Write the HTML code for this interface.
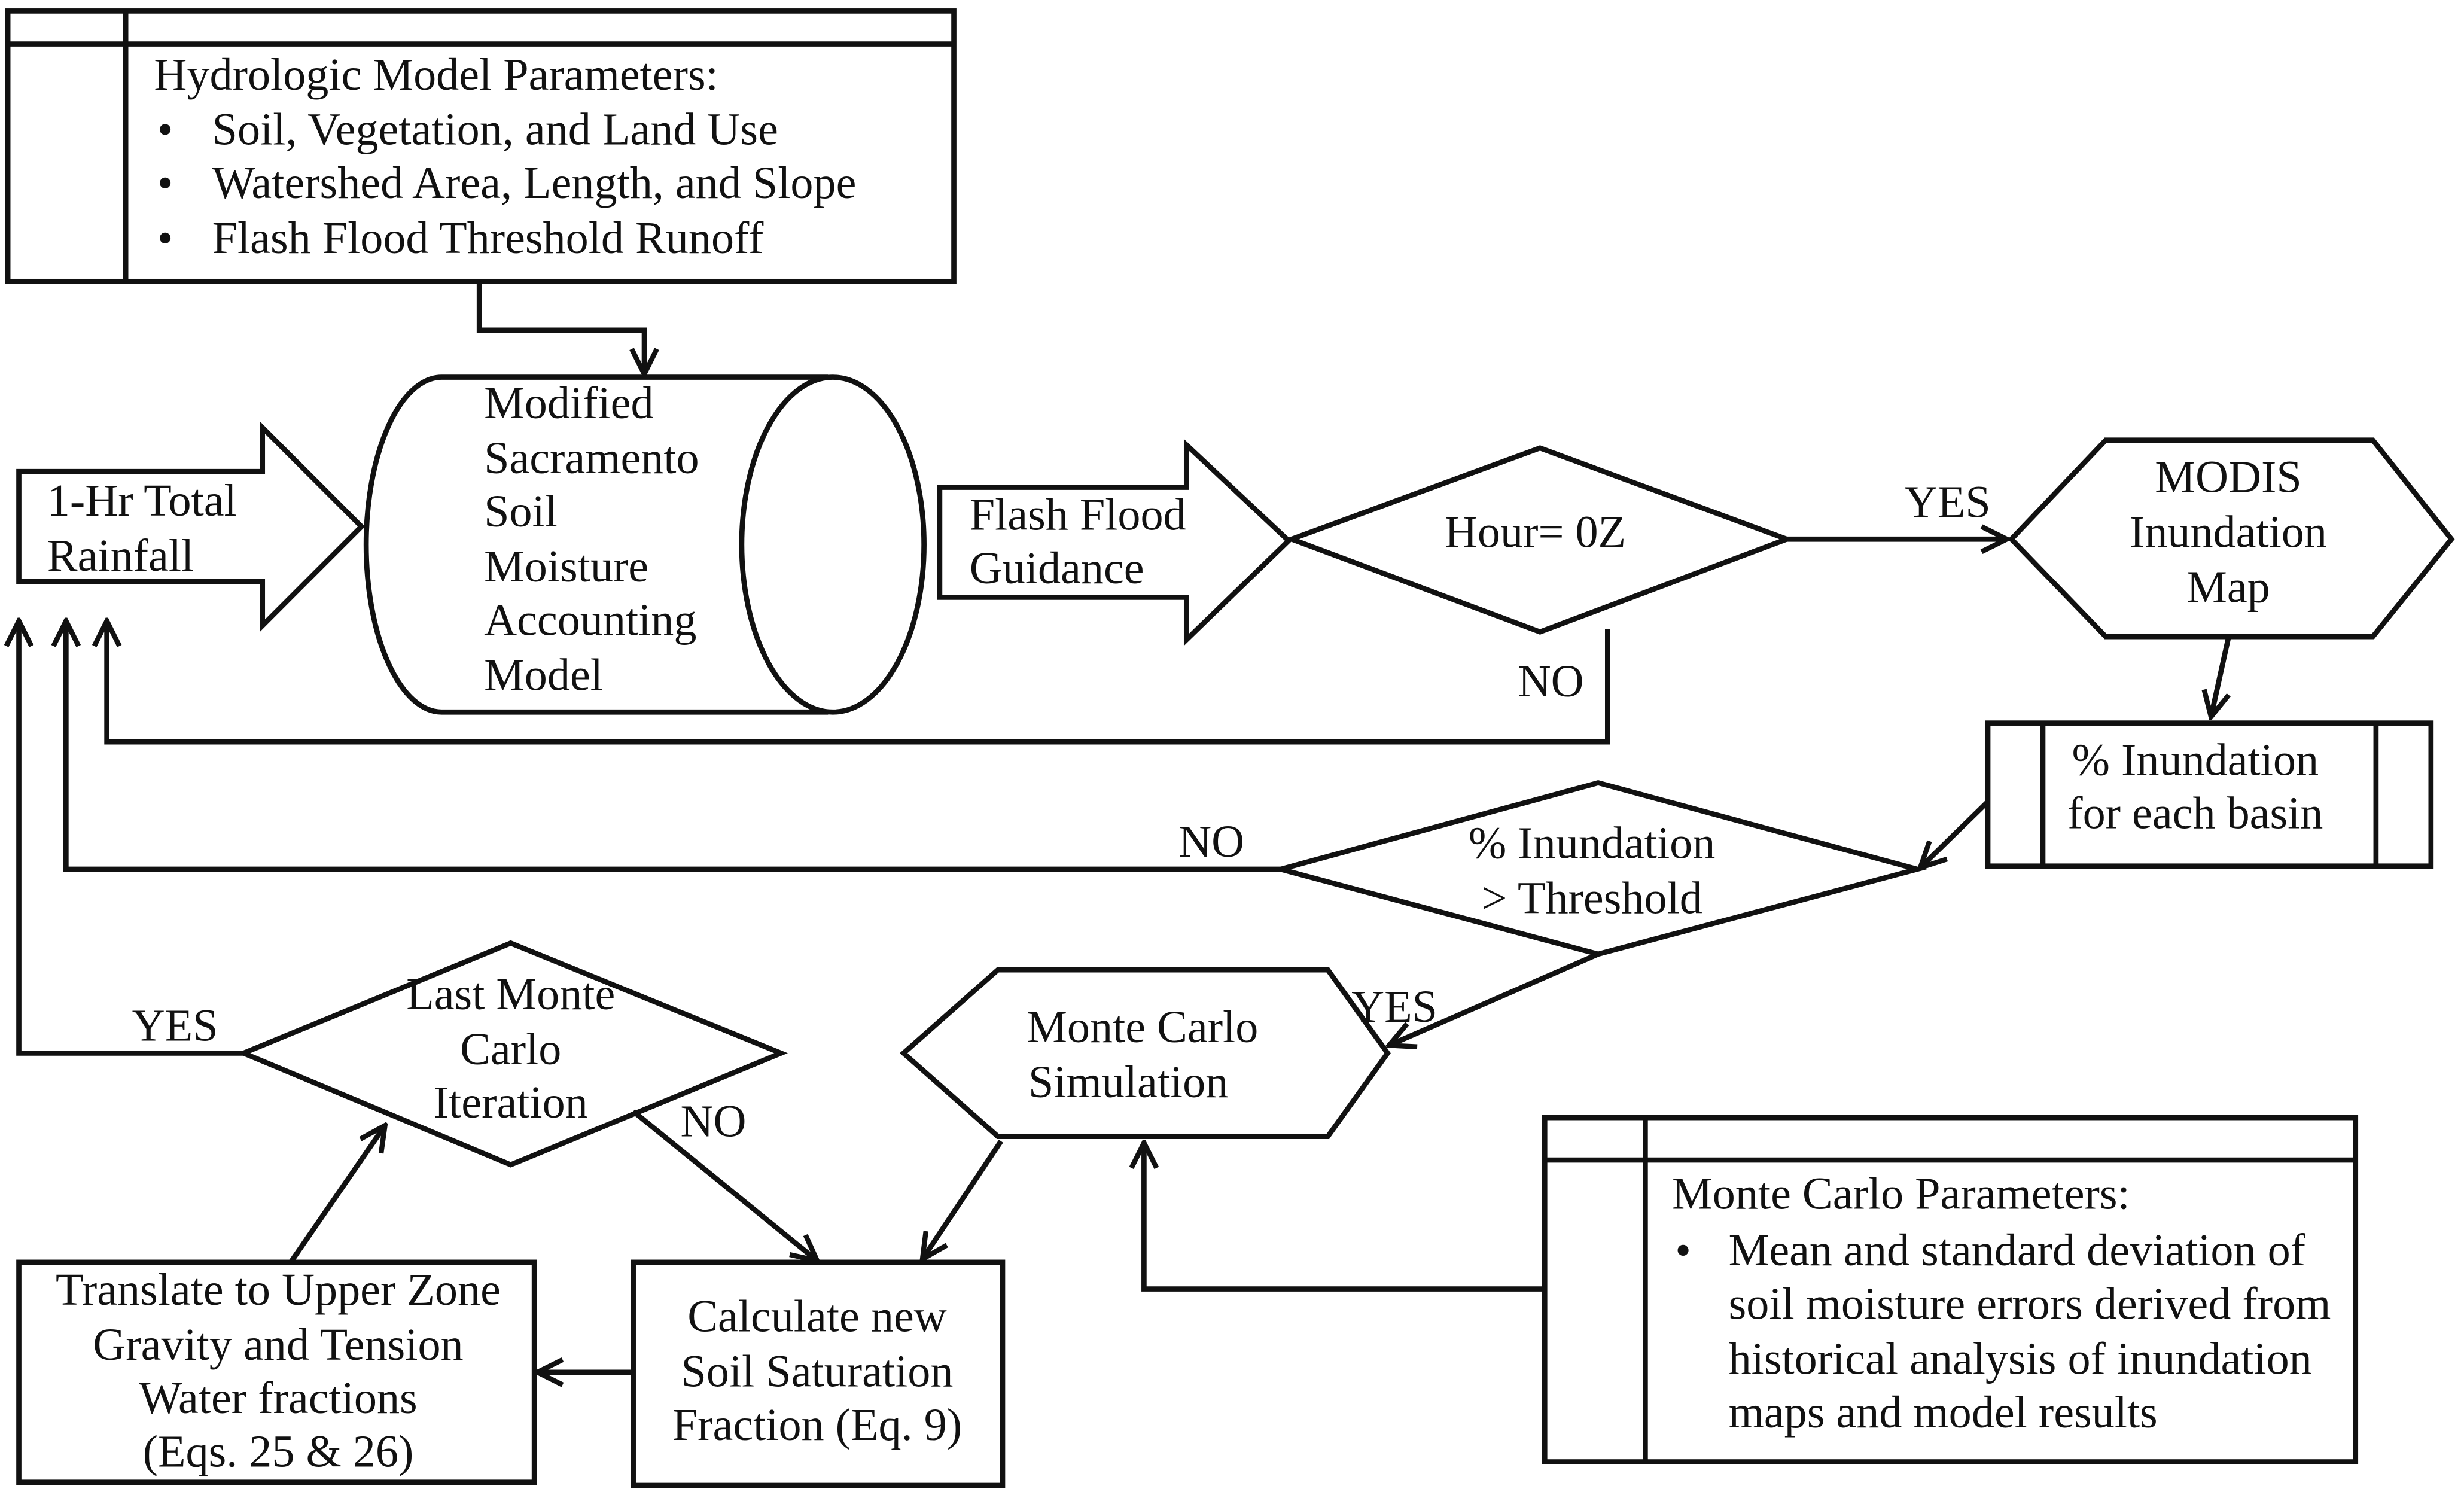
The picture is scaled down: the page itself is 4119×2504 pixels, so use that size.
<!DOCTYPE html>
<html><head><meta charset="utf-8"><style>
html,body{margin:0;padding:0;background:#fff;}
svg{display:block;}
text{font-family:"Liberation Serif",serif;font-size:29px;fill:#111;}
</style></head><body>
<svg width="4119" height="2504" viewBox="0 0 1568 953" preserveAspectRatio="none" xmlns="http://www.w3.org/2000/svg">
<defs>
<marker id="a" viewBox="0 0 20 20" refX="18" refY="10" markerWidth="20" markerHeight="20" markerUnits="userSpaceOnUse" orient="auto">
<path d="M2,2 L18,10 L2,18" fill="none" stroke="#111" stroke-width="3.2"/>
</marker>
</defs>
<g fill="none" stroke="#111" stroke-width="3.3">
<rect x="5" y="7" width="602" height="172"/>
<line x1="5" y1="28" x2="607" y2="28"/>
<line x1="80" y1="7" x2="80" y2="179"/>
<polyline points="305,179 305,210 410,210 410,238" marker-end="url(#a)"/>
<path d="M527,240 L281,240 A48,106.5 0 0 0 281,453 L527,453"/>
<ellipse cx="530" cy="346.5" rx="58" ry="106.5"/>
<path d="M12,300 L167,300 L167,272 L230,335 L167,398 L167,370 L12,370 Z"/>
<path d="M598,310 L755,310 L755,283 L820,344 L755,407 L755,380 L598,380 Z"/>
<path d="M822,343 L980,285 L1137,343 L980,402 Z"/>
<line x1="1137" y1="343" x2="1277" y2="343" marker-end="url(#a)"/>
<path d="M1280,343 L1340,280 L1510,280 L1560,343 L1510,405 L1340,405 Z"/>
<polyline points="1023,400 1023,472 68,472 68,395" marker-end="url(#a)"/>
<line x1="1418" y1="406" x2="1407" y2="456" marker-end="url(#a)"/>
<rect x="1265" y="460" width="282" height="91"/>
<line x1="1300" y1="460" x2="1300" y2="551"/>
<line x1="1512" y1="460" x2="1512" y2="551"/>
<line x1="1265" y1="510" x2="1222" y2="552" marker-end="url(#a)"/>
<path d="M815,553 L1017,498 L1220,553 L1017,607 Z"/>
<polyline points="815,553 42,553 42,395" marker-end="url(#a)"/>
<line x1="1017" y1="607" x2="884" y2="665" marker-end="url(#a)"/>
<path d="M575,670 L635,617 L845,617 L883,670 L845,723 L635,723 Z"/>
<line x1="637" y1="726" x2="587" y2="801" marker-end="url(#a)"/>
<path d="M155,670 L325,600 L497,670 L325,741 Z"/>
<polyline points="155,670 12,670 12,395" marker-end="url(#a)"/>
<line x1="403" y1="707" x2="520" y2="802" marker-end="url(#a)"/>
<rect x="12" y="803" width="328" height="140"/>
<rect x="403" y="803" width="235" height="142"/>
<line x1="403" y1="873" x2="342" y2="873" marker-end="url(#a)"/>
<line x1="185" y1="803" x2="245" y2="716" marker-end="url(#a)"/>
<rect x="983" y="711" width="516" height="219"/>
<line x1="983" y1="738" x2="1499" y2="738"/>
<line x1="1047" y1="711" x2="1047" y2="930"/>
<polyline points="983,820 728,820 728,727" marker-end="url(#a)"/>
</g>
<text x="98" y="57">Hydrologic Model Parameters:</text>
<text x="100" y="92">•</text><text x="135" y="92">Soil, Vegetation,  and Land Use</text>
<text x="100" y="126">•</text><text x="135" y="126">Watershed  Area, Length, and Slope</text>
<text x="100" y="161">•</text><text x="135" y="161">Flash Flood Threshold Runoff</text>
<text x="308" y="266">Modified</text>
<text x="308" y="301">Sacramento</text>
<text x="308" y="335">Soil</text>
<text x="308" y="370">Moisture</text>
<text x="308" y="404">Accounting</text>
<text x="308" y="439">Model</text>
<text x="30" y="328">1-Hr  Total</text>
<text x="30" y="363">Rainfall</text>
<text x="617" y="337">Flash Flood</text>
<text x="617" y="371">Guidance</text>
<text x="977" y="348" text-anchor="middle">Hour= 0Z</text>
<text x="1212" y="329">YES</text>
<text x="1418" y="313" text-anchor="middle">MODIS</text>
<text x="1418" y="348" text-anchor="middle">Inundation</text>
<text x="1418" y="383" text-anchor="middle">Map</text>
<text x="966" y="443">NO</text>
<text x="1397" y="493" text-anchor="middle">% Inundation</text>
<text x="1397" y="527" text-anchor="middle">for each basin</text>
<text x="1013" y="546" text-anchor="middle">% Inundation</text>
<text x="1013" y="581" text-anchor="middle">&gt; Threshold</text>
<text x="750" y="545">NO</text>
<text x="860" y="650">YES</text>
<text x="727" y="663" text-anchor="middle">Monte Carlo</text>
<text x="718" y="698" text-anchor="middle">Simulation</text>
<text x="325" y="642" text-anchor="middle">Last Monte</text>
<text x="325" y="677" text-anchor="middle">Carlo</text>
<text x="325" y="711" text-anchor="middle">Iteration</text>
<text x="84" y="662">YES</text>
<text x="433" y="723">NO</text>
<text x="177" y="830" text-anchor="middle">Translate to Upper Zone</text>
<text x="177" y="865" text-anchor="middle">Gravity and Tension</text>
<text x="177" y="899" text-anchor="middle">Water fractions</text>
<text x="177" y="933" text-anchor="middle">(Eqs. 25 &amp; 26)</text>
<text x="520" y="847" text-anchor="middle">Calculate new</text>
<text x="520" y="882" text-anchor="middle">Soil Saturation</text>
<text x="520" y="916" text-anchor="middle">Fraction (Eq. 9)</text>
<text x="1064" y="769">Monte Carlo Parameters:</text>
<text x="1066" y="805">•</text><text x="1100" y="805">Mean and standard deviation of</text>
<text x="1100" y="839">soil moisture errors derived from</text>
<text x="1100" y="874">historical analysis of inundation</text>
<text x="1100" y="908">maps and model results</text>
</svg>
</body></html>
